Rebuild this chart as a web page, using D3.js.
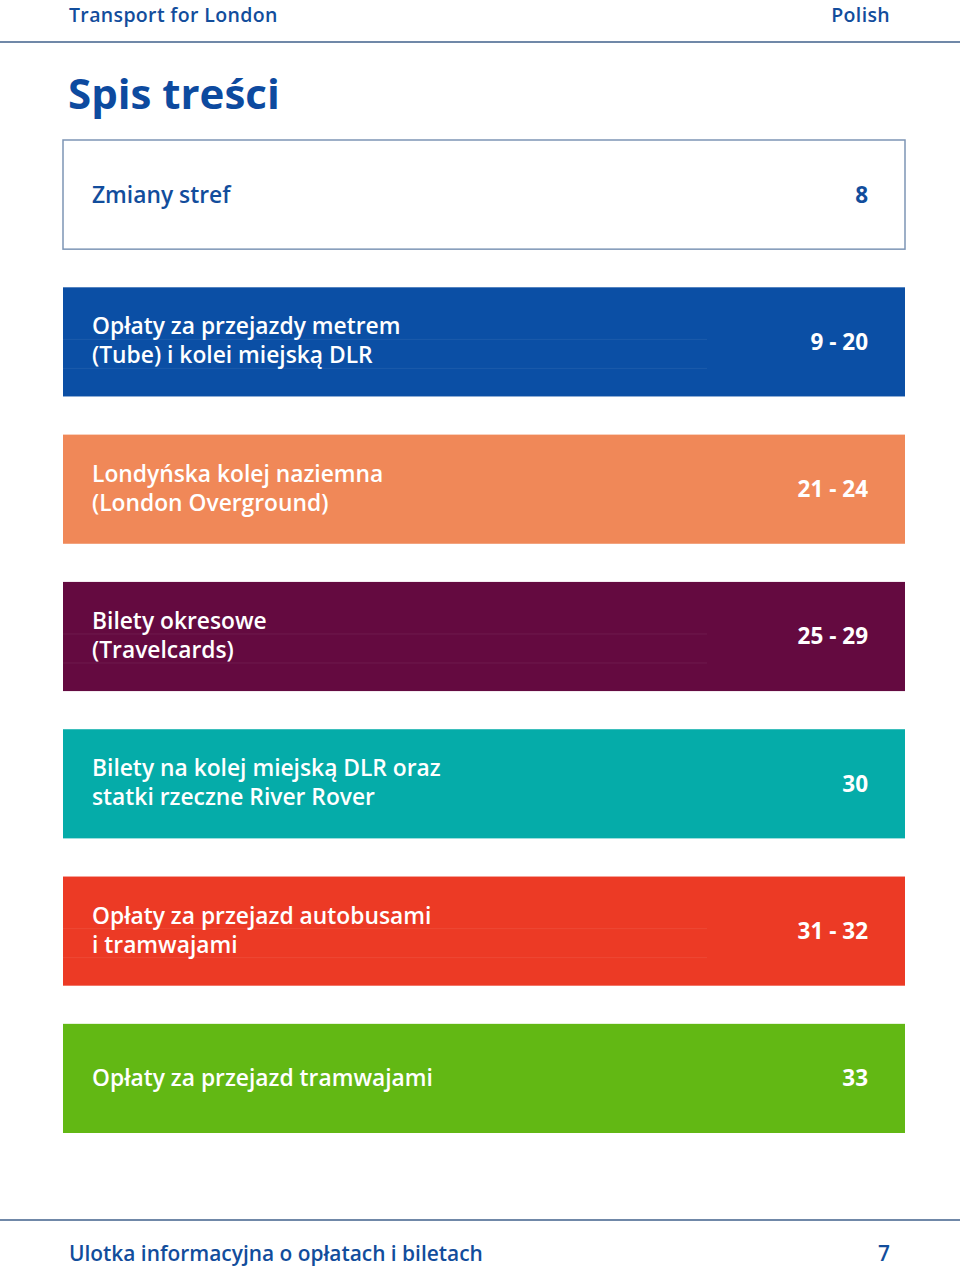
<!DOCTYPE html>
<html><head><meta charset="utf-8">
<script src="https://cdn.jsdelivr.net/npm/d3@7"></script>
<style>html,body{margin:0;padding:0;background:#fff;}svg{display:block;}</style>
</head><body>
<div id="chart"></div>
<script>
const headerLeft = "Transport for London";
const headerRight = "Polish";
const title = "Spis treści";
const sections = [
  ["Zmiany stref"],
  ["Opłaty za przejazdy metrem", "(Tube) i kolei miejską DLR"],
  ["Londyńska kolej naziemna", "(London Overground)"],
  ["Bilety okresowe", "(Travelcards)"],
  ["Bilety na kolej miejską DLR oraz", "statki rzeczne River Rover"],
  ["Opłaty za przejazd autobusami", "i tramwajami"],
  ["Opłaty za przejazd tramwajami"]
];
const pages = ["8", "9 - 20", "21 - 24", "25 - 29", "30", "31 - 32", "33"];
const footerText = "Ulotka informacyjna o opłatach i biletach";
const footerPage = "7";

const fills = ["#ffffff", "#0b4fa5", "#f08858", "#640a40", "#05aca9", "#ec3a25", "#62b814"];
const W = 960, H = 1271;
const FONT = "'Open Sans', 'Noto Sans', sans-serif";
const blue = "#124d9c";

const svg = d3.select("#chart").append("svg").attr("width", W).attr("height", H);

svg.append("text").attr("x", 69).attr("y", 21.5).text(headerLeft)
  .attr("font-family", FONT).attr("font-weight", 600).attr("font-size", 19.5)
  .attr("letter-spacing", 0.35).attr("fill", blue);
svg.append("text").attr("x", 890).attr("y", 21.5).attr("text-anchor", "end").text(headerRight)
  .attr("font-family", FONT).attr("font-weight", 600).attr("font-size", 19.5)
  .attr("letter-spacing", 0.35).attr("fill", blue);
svg.append("line").attr("x1", 0).attr("x2", W).attr("y1", 42).attr("y2", 42)
  .attr("stroke", "#7088a8").attr("stroke-width", 2);

svg.append("text").attr("x", 68).attr("y", 109).text(title)
  .attr("font-family", FONT).attr("font-weight", 700).attr("font-size", 42).attr("fill", "#0d4a9f");

const y = d3.scaleBand().domain(d3.range(sections.length)).range([140, 1133]).paddingInner(0.259);
const x0 = 63, x1 = 905;

const g = svg.selectAll("g.row").data(sections).join("g").attr("class", "row")
  .attr("transform", (d, i) => `translate(0,${y(i)})`);

g.append("rect").attr("x", x0).attr("y", 0).attr("width", x1 - x0).attr("height", y.bandwidth())
  .attr("fill", (d, i) => fills[i])
  .attr("stroke", (d, i) => i === 0 ? "#7d95b5" : "none").attr("stroke-width", 1.5);

const bw = y.bandwidth();
g.each(function(d, i) {
  const sel = d3.select(this);
  const col = i === 0 ? blue : "#ffffff";
  const lh = 29;
  const startY = (d.length > 1 ? bw / 2 + 7 : bw / 2 + 8) - (d.length - 1) * lh / 2;
  d.forEach((line, k) => {
    sel.append("text").attr("x", 92).attr("y", startY + k * lh).text(line)
      .attr("font-family", FONT).attr("font-weight", 600).attr("font-size", 22.8)
      .attr("fill", col);
    if (d.length > 1 && i !== 0 && i !== 4 && i !== 2) {
      sel.append("line").attr("x1", x0).attr("x2", 707)
        .attr("y1", startY + k * lh + 5).attr("y2", startY + k * lh + 5)
        .attr("stroke", "#ffffff").attr("stroke-opacity", 0.07).attr("stroke-width", 1);
    }
  });
  sel.append("text").attr("x", 868).attr("y", bw / 2 + 8).attr("text-anchor", "end").text(pages[i])
    .attr("font-family", FONT).attr("font-weight", 700).attr("font-size", 22.5).attr("fill", col);
});

svg.append("line").attr("x1", 0).attr("x2", W).attr("y1", 1220).attr("y2", 1220)
  .attr("stroke", "#7088a8").attr("stroke-width", 2);
svg.append("text").attr("x", 69).attr("y", 1261).text(footerText)
  .attr("font-family", FONT).attr("font-weight", 600).attr("font-size", 20.9).attr("fill", blue);
svg.append("text").attr("x", 890).attr("y", 1261).attr("text-anchor", "end").text(footerPage)
  .attr("font-family", FONT).attr("font-weight", 600).attr("font-size", 20.9).attr("fill", blue);
</script>
</body></html>
